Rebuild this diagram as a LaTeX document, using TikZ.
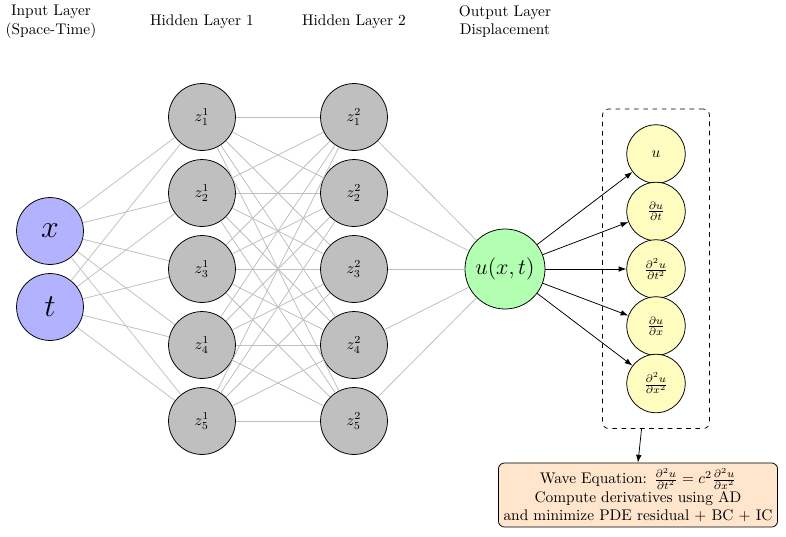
\documentclass[tikz,border=0pt]{standalone}
\usetikzlibrary{fit,arrows.meta,calc}
\begin{document}
\begin{tikzpicture}[x=0.65pt,y=-0.65pt,
  neuron/.style={circle,draw=black,line width=0.5pt,inner sep=0pt},
  inp/.style={neuron,fill=blue!30,minimum size=43.5pt,font=\huge},
  hid/.style={neuron,fill=gray!50,minimum size=43.5pt},
  outn/.style={neuron,fill=green!30,minimum size=52pt,font=\Large},
  der/.style={neuron,fill=yellow!25,minimum size=38pt},
  conn/.style={draw=gray!50,line width=0.5pt},
  arr/.style={-{Latex[length=5pt,width=3.6pt]},line width=0.5pt},
  lbl/.style={align=center}]
\useasboundingbox (0,0) rectangle (786,536);

% labels
\node[lbl] (l0) at (51,21.5) {Input Layer\\(Space-Time)};
\node[lbl] (l1) at (202,21.5) {Hidden Layer 1};
\node[lbl] (l2) at (354,21.5) {Hidden Layer 2};
\node[lbl] (l3) at (505,21.5) {Output Layer\\Displacement};

% input
\node[inp] (x) at (50,231) {$x$};
\node[inp] (t) at (50,307) {$t$};

% hidden
\foreach \i/\y in {1/117,2/193,3/269,4/345,5/421} {
  \node[hid] (h1\i) at (202,\y) {$z^1_\i$};
  \node[hid] (h2\i) at (354,\y) {$z^2_\i$};
}

% output
\node[outn] (u) at (505,269) {$u(x,t)$};

% derivatives
\node[der] (d1) at (656,154) {$u$};
\node[der] (d2) at (656,211.5) {$\frac{\partial u}{\partial t}$};
\node[der] (d3) at (656,269) {$\frac{\partial^2 u}{\partial t^2}$};
\node[der] (d4) at (656,326) {$\frac{\partial u}{\partial x}$};
\node[der] (d5) at (656,383.5) {$\frac{\partial^2 u}{\partial x^2}$};

\node[draw,dashed,line width=0.5pt,rounded corners=4pt,fit=(d1)(d5),inner xsep=15.5pt,inner ysep=10pt] (deriv) {};

% connections
\foreach \a in {x,t} \foreach \j in {1,...,5} \draw[conn] (\a) -- (h1\j);
\foreach \i in {1,...,5} \foreach \j in {1,...,5} \draw[conn] (h1\i) -- (h2\j);
\foreach \i in {1,...,5} \draw[conn] (h2\i) -- (u);

\foreach \k in {1,...,5} \draw[arr] (u) -- (d\k);

% PDE box
\node[draw,fill=orange!20,line width=0.5pt,rounded corners=4pt,align=center] (pde) at (638,495)
  {Wave Equation: $\frac{\partial^2 u}{\partial t^2} = c^2\frac{\partial^2 u}{\partial x^2}$\\
   Compute derivatives using AD\\
   and minimize PDE residual + BC + IC};

\draw[arr] ([xshift=-9.4pt]deriv.south) -- (pde.north);
\end{tikzpicture}
\end{document}
